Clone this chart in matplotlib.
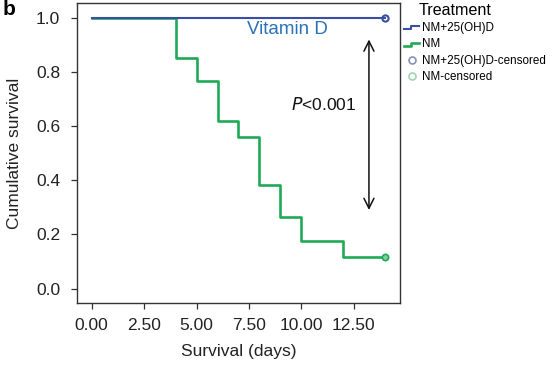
import matplotlib
matplotlib.use("Agg")
import matplotlib.pyplot as plt
from matplotlib.legend_handler import HandlerBase
from matplotlib.lines import Line2D

plt.rcParams['font.family'] = ['Liberation Sans', 'DejaVu Sans']

# Data
nm_times = [0, 4, 5, 6, 7, 8, 9, 10, 12, 14]
nm_surv = [1.0, 0.852, 0.765, 0.617, 0.559, 0.383, 0.266, 0.176, 0.118, 0.118]
vd_times = [0, 14]
vd_surv = [1.0, 1.0]
x_ticks = [0.0, 2.5, 5.0, 7.5, 10.0, 12.5]
x_ticklabels = ["0.00", "2.50", "5.00", "7.50", "10.00", "12.50"]
y_ticks = [0.0, 0.2, 0.4, 0.6, 0.8, 1.0]
series_names = ["NM+25(OH)D", "NM", "NM+25(OH)D-censored", "NM-censored"]

blue = "#3a4ea3"
green = "#1faa55"

fig = plt.figure(figsize=(5.56, 3.65), dpi=100)
ax = fig.add_axes([0.1385, 0.170, 0.5809, 0.8222])

ax.step(vd_times, vd_surv, where='post', color=blue, lw=1.5, zorder=3)
ax.step(nm_times, nm_surv, where='post', color=green, lw=1.9, zorder=2)
ax.plot([vd_times[-1]], [vd_surv[-1]], 'o', ms=4.5, mfc='none', mec=blue, mew=1.5, zorder=4)
ax.plot([nm_times[-1]], [nm_surv[-1]], 'o', ms=4.5, mfc='#7fcf9a', mec=green, mew=1.2, zorder=4)

ax.set_xlim(-0.7, 14.7)
ax.set_ylim(-0.053, 1.055)
ax.set_xticks(x_ticks)
ax.set_xticklabels(x_ticklabels)
ax.set_yticks(y_ticks)
ax.set_yticklabels([f"{v:.1f}" for v in y_ticks])
ax.tick_params(labelsize=12.5, length=4, width=0.9, color='#333333', labelcolor='#222222')
ax.tick_params(axis='x', pad=7)
ax.tick_params(axis='y', pad=8)
for s in ax.spines.values():
    s.set_color('#333333')
    s.set_linewidth(1.0)
ax.set_xlabel("Survival (days)", fontsize=12.5, color='#222222', labelpad=8)
ax.set_ylabel("Cumulative survival", fontsize=12.5, color='#222222', labelpad=10)

ax.text(9.33, 0.958, "Vitamin D", color='#2a72b8', fontsize=13.5, ha='center', va='center')
ax.annotate("", xy=(13.22, 0.93), xytext=(13.22, 0.28),
            arrowprops=dict(arrowstyle='<->', color='#111111', lw=1.1, mutation_scale=18))
ax.text(11.05, 0.68, "$P$<0.001", fontsize=12.5, ha='center', va='center', color='#111111')

fig.text(0.005, 1.0, "b", fontsize=15, fontweight='bold', ha='left', va='top')


class StepHandler(HandlerBase):
    def __init__(self, color, lw):
        super().__init__()
        self.color = color
        self.lw = lw

    def create_artists(self, legend, orig_handle, xdescent, ydescent, width, height, fontsize, trans):
        xs = [0, width * 0.45, width * 0.45, width]
        ys = [height * 0.2, height * 0.2, height * 0.6, height * 0.6]
        ln = Line2D([x - xdescent for x in xs], [y - ydescent for y in ys], color=self.color, lw=self.lw)
        ln.set_transform(trans)
        return [ln]


h1 = Line2D([], [], color=blue)
h2 = Line2D([], [], color=green)
h3 = Line2D([], [], ls='none', marker='o', ms=5, mfc='none', mec='#8a8fb8', mew=1.2)
h4 = Line2D([], [], ls='none', marker='o', ms=5, mfc='none', mec='#9fd4b0', mew=1.2)

leg = fig.legend([h1, h2, h3, h4], series_names, title="Treatment",
                 loc='upper left', bbox_to_anchor=(0.727, 0.993), frameon=False,
                 fontsize=8.4, title_fontsize=11.6, handlelength=1.3, handletextpad=0.25,
                 labelspacing=0.38, borderaxespad=0, borderpad=0.0,
                 handler_map={h1: StepHandler(blue, 1.5), h2: StepHandler(green, 1.9)})
leg._legend_box.align = "left"
leg.get_title().set_position((14, 0))

fig.savefig("out.png", dpi=100)
